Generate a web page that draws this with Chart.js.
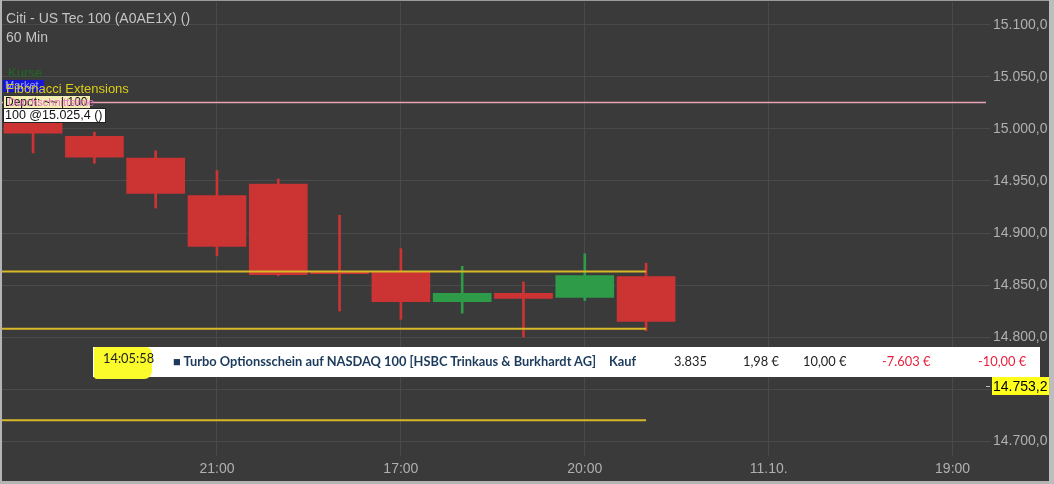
<!DOCTYPE html>
<html>
<head>
<meta charset="utf-8">
<script src="https://cdn.jsdelivr.net/npm/chart.js@4"></script>
<style>
  html, body { margin:0; padding:0; background:#3a3a3a; }
  #wrap { position:relative; width:1054px; height:484px; overflow:hidden; background:#3a3a3a; font-family:"Liberation Sans", Arial, sans-serif; }
  #c { position:absolute; left:0; top:0; }
  .abs { position:absolute; white-space:nowrap; line-height:1; }
  .row { font-family:"Lato", "Noto Sans", sans-serif; font-size:12.85px; }
</style>
</head>
<body>
<div id="wrap">
  <canvas id="c" width="1054" height="484"></canvas>

  <!-- top-left labels -->
  <div class="abs" style="left:6px;top:11px;font-size:14px;color:#c4c4c4;">Citi - US Tec 100 (A0AE1X) ()</div>
  <div class="abs" style="left:6px;top:30px;font-size:14px;color:#c4c4c4;">60 Min</div>
  <div class="abs" style="left:8px;top:66px;font-size:13px;color:#1f6a22;">Kurse</div>
  <div class="abs" style="left:3px;top:80px;width:41px;height:12px;background:#1616d6;"></div>
  <div class="abs" style="left:5px;top:80px;font-size:11px;color:#9aa0ff;">Market</div>
  <div class="abs" style="left:6px;top:82px;font-size:13px;color:#dccb1a;">Fibonacci Extensions</div>
  <div class="abs" style="left:3px;top:95px;width:86px;height:12px;background:#f2eeb0;border:1px solid #333;"></div>
  <div class="abs" style="left:5px;top:96px;font-size:12px;color:#111;">Depot: ~~ | 100</div>
  <div class="abs" style="left:8px;top:97px;font-size:11px;color:#e872c8;">Durchschnittslinie</div>
  <div class="abs" style="left:3px;top:108px;width:101px;height:13px;background:#ffffff;border:1px solid #222;"></div>
  <div class="abs" style="left:5px;top:109px;font-size:12.5px;color:#111;">100 @15.025,4 ()</div>

  <!-- order table row -->
  <div class="abs" style="left:93px;top:347px;width:947px;height:30px;background:#ffffff;"></div>
  <div class="abs" style="left:94px;top:347px;width:58px;height:32px;background:#fbfb2c;border-radius:2px 6px 8px 3px;"></div>
  <div class="abs row" style="left:103px;top:352px;color:#222;">14:05:58</div>
  <div class="abs row" style="left:173px;top:355px;color:#1b3a5c;font-weight:bold;">■ Turbo Optionsschein auf NASDAQ 100 [HSBC Trinkaus &amp; Burkhardt AG]</div>
  <div class="abs row" style="left:609px;top:355px;color:#1b3a5c;font-weight:bold;">Kauf</div>
  <div class="abs row" style="left:674px;top:355px;color:#222;">3.835</div>
  <div class="abs row" style="left:743px;top:355px;color:#222;">1,98 €</div>
  <div class="abs row" style="left:803px;top:355px;color:#222;">10,00 €</div>
  <div class="abs row" style="left:882px;top:355px;color:#e8203c;">-7.603 €</div>
  <div class="abs row" style="left:978px;top:355px;color:#e8203c;">-10,00 €</div>

  <!-- frame -->
  <div class="abs" style="left:0;top:0;width:1054px;height:1px;background:#9a9a9a;"></div>
  <div class="abs" style="left:0;top:0;width:2px;height:484px;background:#b4b4b4;"></div>
  <div class="abs" style="left:0;top:481px;width:1054px;height:3px;background:#b4b4b4;"></div>
  <div class="abs" style="left:1049px;top:0;width:5px;height:484px;background:#bdbdbd;"></div>
</div>
<script>
// ---- data ----
const candleIndex = [0, 1, 2, 3, 4, 5, 6, 7, 8, 9, 10];
const opens  = [15010, 14993, 14972, 14936, 14947, 14862.5, 14863, 14834, 14842, 14838, 14858];
const closes = [14996, 14973, 14938, 14887, 14860, 14861,   14834, 14842, 14837, 14859, 14815];
const highs  = [15016, 14997, 14979, 14960, 14952, 14917,   14885, 14868, 14853, 14880, 14871];
const lows   = [14977, 14967, 14924, 14878, 14859, 14825,   14817, 14823, 14800, 14835, 14806];

const timeTickPos    = [3, 6, 9, 12, 15];
const timeTickLabels = ['21:00', '17:00', '20:00', '11.10.', '19:00'];

const priceTicks = [14700, 14750, 14800, 14850, 14900, 14950, 15000, 15050, 15100];
const priceTickLabels = ['14.700,0', '', '14.800,0', '14.850,0', '14.900,0', '14.950,0', '15.000,0', '15.050,0', '15.100,0'];

const avgLevel = 15025.4;            // Durchschnittslinie (pink)
const fibLevels = [14863, 14808, 14720]; // Fibonacci extension lines (yellow)
const fibEnd = 10;
const lastPrice = 14753.2;
const lastPriceLabel = '14.753,2';

// ---- chart ----
const RED = '#cc3333', GREEN = '#2e9b48';
const colors = candleIndex.map((_, i) => closes[i] >= opens[i] ? GREEN : RED);

const X_MIN = -0.507, X_MAX = 15.545;
const Y_MIN = 14685.6, Y_MAX = 15122.1;

const lineDatasets = [];
lineDatasets.push({
  type: 'line', data: [{x: X_MIN, y: avgLevel}, {x: X_MAX, y: avgLevel}],
  borderColor: '#e8a2b4', borderWidth: 1.5, pointRadius: 0, order: 0
});
fibLevels.forEach(v => lineDatasets.push({
  type: 'line', data: [{x: X_MIN, y: v}, {x: fibEnd, y: v}],
  borderColor: '#d8b828', borderWidth: 2, pointRadius: 0, order: 0
}));

const priceTag = {
  id: 'priceTag',
  afterDraw(chart) {
    const ctx = chart.ctx, y = chart.scales.y.getPixelForValue(lastPrice);
    const right = chart.chartArea.right;
    ctx.save();
    ctx.fillStyle = '#bbbbbb';
    ctx.fillRect(right + 0, Math.round(y), 4, 1);
    ctx.fillStyle = '#ffff1a';
    ctx.fillRect(right + 6, Math.round(y) - 9, 58, 18);
    ctx.fillStyle = '#000';
    ctx.font = '14px "Liberation Sans", Arial, sans-serif';
    ctx.textBaseline = 'middle';
    ctx.fillText(lastPriceLabel, right + 7, Math.round(y) + 1);
    ctx.restore();
  }
};

new Chart(document.getElementById('c'), {
  type: 'bar',
  data: {
    datasets: [
      ...lineDatasets,
      {
        label: 'wick',
        data: candleIndex.map(i => ({x: i, y: [lows[i], highs[i]]})),
        backgroundColor: colors, borderWidth: 0, barThickness: 2,
        grouped: false, order: 2
      },
      {
        label: 'body',
        data: candleIndex.map(i => ({x: i, y: [opens[i], closes[i]]})),
        backgroundColor: colors, borderWidth: 0, barThickness: 58,
        grouped: false, order: 1, minBarLength: 2
      }
    ]
  },
  options: {
    responsive: false,
    animation: false,
    events: [],
    layout: { padding: { left: 2, top: 2, right: 5, bottom: 3 } },
    plugins: { legend: { display: false }, tooltip: { enabled: false } },
    scales: {
      x: {
        type: 'linear', min: X_MIN, max: X_MAX, offset: false,
        afterBuildTicks: s => { s.ticks = timeTickPos.map(v => ({value: v})); },
        afterFit: s => { s.height = 25; s.paddingLeft = 0; s.paddingRight = 0; },
        ticks: {
          color: '#b0b0b0', font: { size: 14, family: '"Liberation Sans", Arial, sans-serif' },
          padding: 5, maxRotation: 0, autoSkip: false,
          callback: (v) => { const k = timeTickPos.indexOf(v); return k >= 0 ? timeTickLabels[k] : ''; }
        },
        grid: { color: '#4a4a4a', lineWidth: 1, drawTicks: false, offset: false },
        border: { display: false }
      },
      y: {
        type: 'linear', position: 'right', min: Y_MIN, max: Y_MAX,
        afterBuildTicks: s => { s.ticks = priceTicks.map(v => ({value: v})); },
        afterFit: s => { s.width = 63; s.paddingTop = 0; s.paddingBottom = 0; },
        ticks: {
          color: '#b0b0b0', font: { size: 14, family: '"Liberation Sans", Arial, sans-serif' },
          padding: 3, autoSkip: false,
          callback: (v) => { const k = priceTicks.indexOf(v); return k >= 0 ? priceTickLabels[k] : ''; }
        },
        grid: { color: '#4a4a4a', lineWidth: 1, tickLength: 4, tickColor: '#4a4a4a' },
        border: { display: false }
      }
    }
  },
  plugins: [priceTag]
});
</script>
</body>
</html>
